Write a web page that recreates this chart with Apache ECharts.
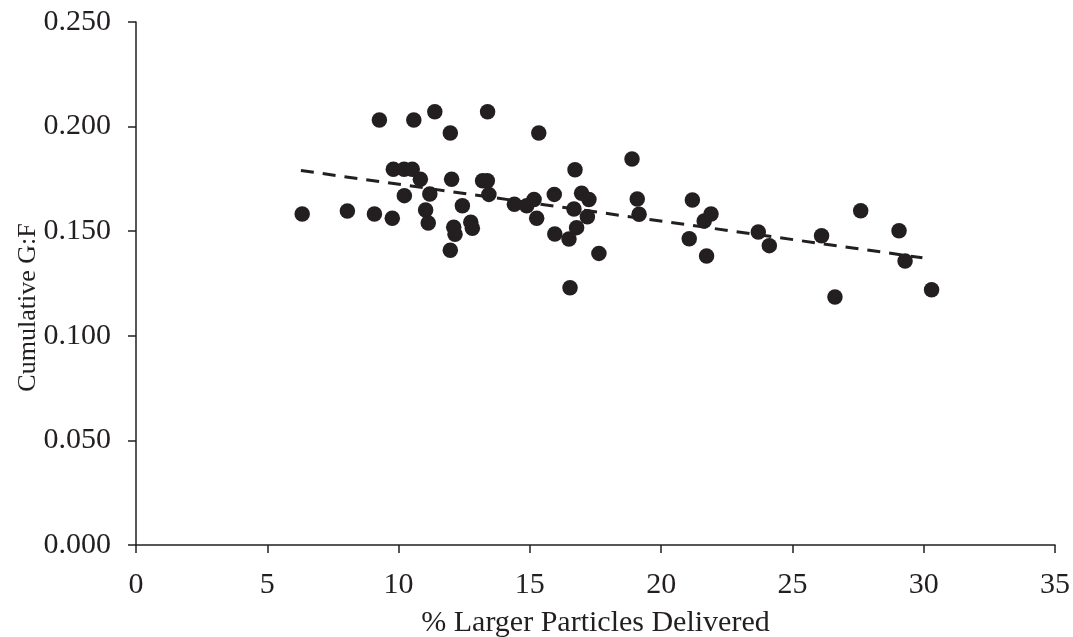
<!DOCTYPE html>
<html>
<head>
<meta charset="utf-8">
<script src="https://cdn.jsdelivr.net/npm/echarts@6/dist/echarts.min.js"></script>
<style>html,body{margin:0;padding:0;background:#fff}#c{width:1073px;height:637px}</style>
</head>
<body>
<div id="c"></div>
<script>
// % Larger Particles Delivered
const xValues = [6.33, 8.05, 9.08, 9.27, 9.76, 9.80, 10.21, 10.52, 10.58, 10.22,
  10.83, 11.03, 11.13, 11.19, 11.38, 11.97, 12.02, 11.97, 12.10, 12.15,
  12.43, 12.75, 12.81, 13.20, 13.38, 13.39, 13.44, 14.41, 14.88, 15.16,
  15.26, 15.34, 15.93, 15.95, 16.49, 16.53, 16.68, 16.72, 16.78, 16.97,
  17.19, 17.25, 17.63, 18.89, 19.09, 19.16, 21.07, 21.19, 21.64, 21.90,
  21.73, 23.70, 24.12, 26.11, 26.62, 27.60, 29.06, 29.29, 30.30];
// Cumulative G:F
const yValues = [0.1582, 0.1597, 0.1582, 0.2032, 0.1562, 0.1796, 0.1796, 0.1796, 0.2032, 0.1670,
  0.1748, 0.1601, 0.1539, 0.1678, 0.2071, 0.1969, 0.1748, 0.1409, 0.1519, 0.1485,
  0.1622, 0.1543, 0.1514, 0.1741, 0.1741, 0.2071, 0.1676, 0.1629, 0.1622, 0.1652,
  0.1562, 0.1969, 0.1676, 0.1487, 0.1463, 0.1230, 0.1606, 0.1794, 0.1517, 0.1681,
  0.1569, 0.1652, 0.1394, 0.1845, 0.1654, 0.1581, 0.1464, 0.1649, 0.1549, 0.1582,
  0.1381, 0.1496, 0.1431, 0.1478, 0.1185, 0.1598, 0.1502, 0.1358, 0.1220];
// Linear trend line endpoints
const trendX = [6.28, 29.95];
const trendY = [0.1790, 0.1373];
const xTicks = [0, 5, 10, 15, 20, 25, 30, 35];
const yTicks = [0, 0.05, 0.1, 0.15, 0.2, 0.25];

const ink = '#231f20';
const font = 'Liberation Serif, Times New Roman, serif';
const chart = echarts.init(document.getElementById('c'), null, {renderer: 'canvas'});
chart.setOption({
  animation: false,
  backgroundColor: '#fff',
  grid: {left: 136, right: 18, top: 22, bottom: 92, containLabel: false, outerBoundsMode: 'none'},
  xAxis: {
    type: 'value', min: 0, max: 35, interval: 5,
    name: '% Larger Particles Delivered', nameLocation: 'middle', nameGap: 63,
    nameMoveOverlap: false,
    nameTextStyle: {fontFamily: font, fontSize: 30, color: ink},
    axisLine: {show: true, onZero: false, lineStyle: {color: ink, width: 1.5}},
    axisTick: {show: true, length: 8, lineStyle: {color: ink, width: 1.5}},
    axisLabel: {fontFamily: font, fontSize: 30, color: ink, margin: 25,
      formatter: v => xTicks.includes(v) ? String(v) : ''},
    splitLine: {show: false}
  },
  yAxis: {
    type: 'value', min: 0, max: 0.25, interval: 0.05,
    name: 'Cumulative G:F', nameLocation: 'middle', nameGap: 95,
    nameMoveOverlap: false,
    nameTextStyle: {fontFamily: font, fontSize: 26, color: ink, padding: [0, 48, 0, 0]},
    axisLine: {show: true, lineStyle: {color: ink, width: 1.5}},
    axisTick: {show: true, length: 8, lineStyle: {color: ink, width: 1.5}},
    axisLabel: {fontFamily: font, fontSize: 30, color: ink, margin: 25,
      formatter: v => yTicks.some(t => Math.abs(t - v) < 1e-9) ? v.toFixed(3) : ''},
    splitLine: {show: false}
  },
  series: [
    {
      type: 'scatter', symbol: 'circle', symbolSize: 15.5,
      itemStyle: {color: ink, opacity: 1},
      data: xValues.map((x, i) => [x, yValues[i]]),
      z: 3
    },
    {
      type: 'line', symbol: 'none', z: 2,
      lineStyle: {color: ink, width: 3, type: [13, 9]},
      data: trendX.map((x, i) => [x, trendY[i]])
    }
  ]
});
</script>
</body>
</html>
